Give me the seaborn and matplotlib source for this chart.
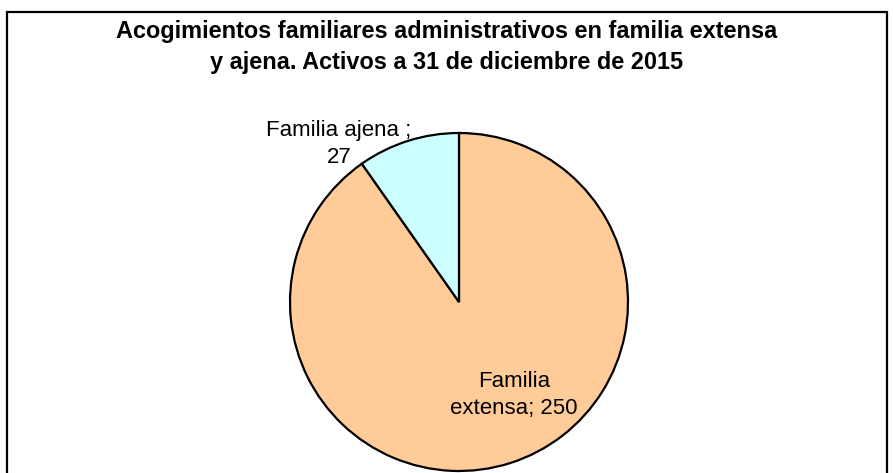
import matplotlib
matplotlib.use("Agg")
import matplotlib.pyplot as plt
import seaborn as sns
from matplotlib.patches import Rectangle

# data
categories = ["Familia extensa", "Familia ajena"]
values = [250, 27]
slice_colors = ["#FFCC99", "#CCFFFF"]
title = ("Acogimientos familiares administrativos en familia extensa\n"
         "y ajena. Activos a 31 de diciembre de 2015")

sns.set_style("white")
plt.rcParams["font.family"] = ["Liberation Sans", "DejaVu Sans"]
plt.rcParams["text.color"] = "black"

W, H = 893, 473
fig = plt.figure(figsize=(W / 100, H / 100), dpi=100)

# outer chart frame (bottom edge falls below the image)
fig.patches.append(Rectangle((7 / W, -0.2), (887 - 7) / W, 1.2 - 12 / H,
                             transform=fig.transFigure, fill=False,
                             edgecolor="black", linewidth=1.6))

# pie axes: centre (459, 302) px, radius 169 px
cx, cy, r = 459, 302, 169
ax = fig.add_axes([(cx - r) / W, (H - cy - r) / H, 2 * r / W, 2 * r / H])
wedges, _ = ax.pie(values, colors=slice_colors, startangle=90, counterclock=False,
                   wedgeprops=dict(edgecolor="black", linewidth=1.6))
for w in wedges:
    w.set_clip_on(False)
ax.set_xlim(-1, 1)
ax.set_ylim(-1, 1)
ax.set_axis_off()

fig.text(447 / W, 1 - 47 / H, title, ha="center", va="center",
         fontsize=16.9, fontweight="bold", linespacing=1.42)

fig.text(339 / W, 1 - 144 / H, categories[1] + " ;\n" + str(values[1]),
         ha="center", va="center", fontsize=16, linespacing=1.4)
fig.text(514 / W, 1 - 395 / H, "Familia\nextensa; " + str(values[0]),
         ha="center", va="center", fontsize=16, linespacing=1.4)

fig.savefig("out.png", dpi=100)
